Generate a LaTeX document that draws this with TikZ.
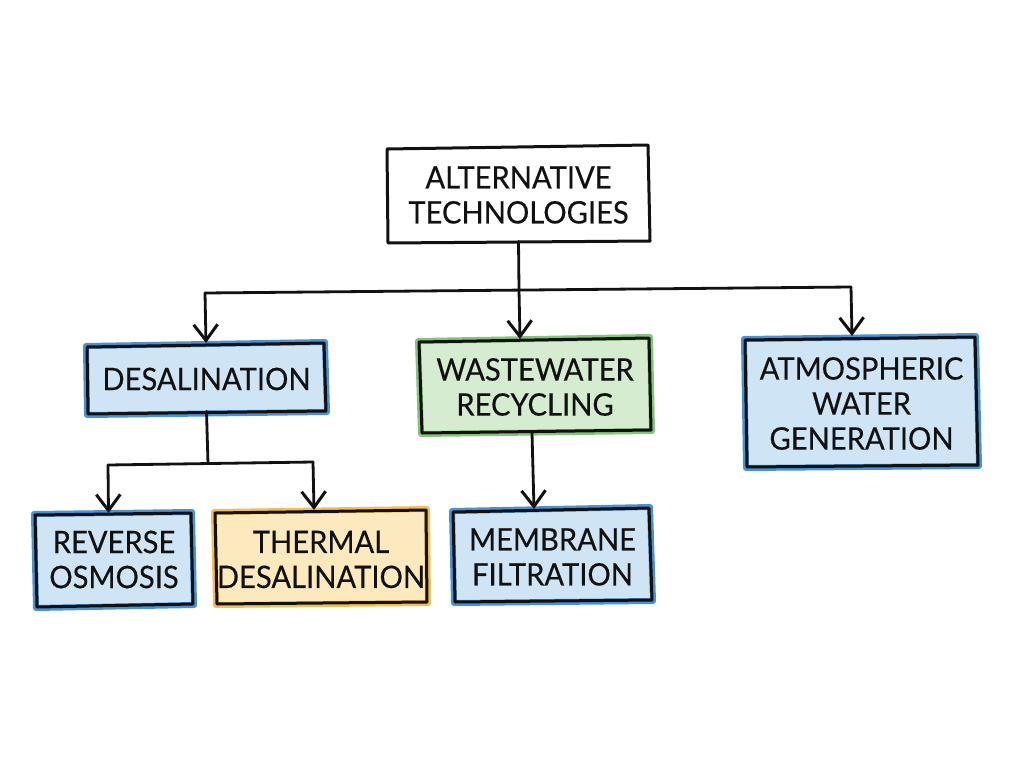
\documentclass[tikz,border=0pt]{standalone}
\usepackage{fontspec}
\setmainfont[FakeStretch=0.94,FakeBold=0.35]{Lato}
\usetikzlibrary{arrows.meta,calc}
\definecolor{inkc}{HTML}{111111}
\definecolor{bluefill}{HTML}{CFE5F6}
\definecolor{blueedge}{HTML}{4A92D6}
\definecolor{greenfill}{HTML}{D6ECD0}
\definecolor{greenedge}{HTML}{86C47C}
\definecolor{yellowfill}{HTML}{FDE9BE}
\definecolor{yellowedge}{HTML}{F4BE50}
\tikzset{
  ink/.style={draw=inkc,line width=3pt,line join=round,line cap=round},
  wash/.style={line width=6pt,line join=round},
  label/.style={text=inkc,align=center,inner sep=0pt,font=\fontsize{31}{35}\selectfont},
  conn/.style={ink,line width=2.8pt},
  arrowconn/.style={conn,-{Straight Barb[length=16pt,width=24pt,line width=3pt]}}
}
% [node options], name, fill, edge, TL, TR, BR, BL, text
\newcommand{\sketchbox}[9][]{%
  \coordinate (#2-a) at (#5); \coordinate (#2-b) at (#6);
  \coordinate (#2-c) at (#7); \coordinate (#2-d) at (#8);
  \path[fill=#3,draw=#4,wash] ([shift={(-1,-1)}]#2-a) -- ([shift={(1,-1)}]#2-b) -- ([shift={(1,1)}]#2-c) -- ([shift={(-1,1)}]#2-d) -- cycle;
  \path[ink] (#2-a) -- (#2-b) -- (#2-c) -- (#2-d) -- cycle;
  \path let \p1=(#2-a),\p2=(#2-c),\n1={\x2-\x1},\n2={\y1-\y2} in
    node[label,minimum width=\n1,minimum height=\n2,#1] (#2) at ($(#2-a)!.5!(#2-c)$) {#9};
}
\begin{document}
\begin{tikzpicture}[x=1pt,y=-1pt]
\useasboundingbox[fill=white] (0,0) rectangle (1024,768);
\sketchbox{root}{white}{white}{387,149}{648,145}{650,241}{388,243}{ALTERNATIVE\\TECHNOLOGIES}
\sketchbox{desal}{bluefill}{blueedge}{87,347}{324,343}{326,411}{88,414}{DESALINATION}
\sketchbox[yshift=-1pt]{waste}{greenfill}{greenedge}{419,342}{649,338}{651,430}{422,433}{WASTEWATER\\RECYCLING}
\sketchbox[yshift=-1pt]{atmos}{bluefill}{blueedge}{745,340}{975,337}{978,465}{747,467}{ATMOSPHERIC\\WATER\\GENERATION}
\sketchbox{rev}{bluefill}{blueedge}{35,515}{191,513}{193,604}{37,607}{REVERSE\\OSMOSIS}
\sketchbox[yshift=-2pt]{therm}{yellowfill}{yellowedge}{215,513}{426,510}{427,602}{217,604}{THERMAL\\DESALINATION}
\sketchbox[yshift=-1pt]{memb}{bluefill}{blueedge}{453,512}{649,508}{652,600}{455,602}{MEMBRANE\\FILTRATION}
% top level
\coordinate (busl) at (205,293);
\coordinate (busr) at (851,287);
\coordinate (busm) at (519,290);
\coordinate (dn) at (206,343);
\coordinate (wn) at (520,339);
\coordinate (an) at (852,336);
\draw[conn] (root.south) -- (busm);
\draw[arrowconn] (busm) -- (wn);
\draw[arrowconn] (busl) -- (dn);
\draw[conn] (busl) -- (busr);
\draw[arrowconn] (busr) -- (an);
% desalination branch
\coordinate (jl) at (108,465);
\coordinate (jr) at (313,462);
\coordinate (jm) at (208,463.5);
\coordinate (rn) at (108.5,513);
\coordinate (tn) at (314,510);
\draw[conn] (desal.south) -- (jm);
\draw[conn] (jl) -- (jr);
\draw[arrowconn] (jl) -- (rn);
\draw[arrowconn] (jr) -- (tn);
% waste to membrane
\coordinate (ws) at (532,433);
\coordinate (mn) at (534,509);
\draw[arrowconn] (ws) -- (mn);
\end{tikzpicture}
\end{document}
